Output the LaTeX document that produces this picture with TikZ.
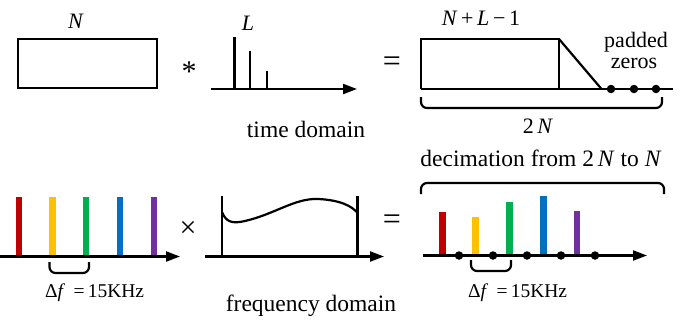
\documentclass[tikz,border=0pt]{standalone}
\usepackage{fontspec}
\setmainfont{Liberation Serif}
\newfontfamily\tnr{Liberation Serif}
\usetikzlibrary{arrows.meta}
\definecolor{cred}{HTML}{C00000}
\definecolor{cyel}{HTML}{FFC000}
\definecolor{cgrn}{HTML}{00B050}
\definecolor{cblu}{HTML}{0070C0}
\definecolor{cpur}{HTML}{7030A0}
\tikzset{
  big/.style={font=\tnr\fontsize{23.5}{24}\selectfont, inner sep=0pt},
  lbl/.style={font=\tnr\fontsize{22}{21}\selectfont, inner sep=0pt, align=center},
  small/.style={font=\tnr\fontsize{19.5}{20}\selectfont, inner sep=0pt},
  ln/.style={line width=2.2pt},
  axis/.style={line width=2.2pt, -{Triangle[length=14pt,width=10pt]}},
  bar/.style={line width=6.5pt},
  brc/.style={line width=2.2pt, rounded corners=6pt},
  dot/.style={circle, fill=black, inner sep=0pt, minimum size=8.5pt},
}
\begin{document}
\begin{tikzpicture}[x=1pt,y=-1pt]
\useasboundingbox (0,0) rectangle (692,330);
% ---------- top row ----------
\node[lbl, anchor=base] (nlab) at (76,28) {\textit{N}};
\draw[ln] (18,39) rectangle (157,88);
\node[font=\tnr\fontsize{30}{30}\selectfont, inner sep=0pt] (star) at (189,72) {*};
% impulse response
\coordinate (ax1s) at (211,89);
\coordinate (ax1e) at (357,89);
\draw[axis] (ax1s) -- (ax1e);
\draw[ln] (234.5,89) -- (234.5,36.5);
\draw[ln] (250,89) -- (250,50.5);
\draw[ln] (267,89) -- (267,71);
\node[lbl, anchor=base] (llab) at (248,30) {\textit{L}};
\node[big, anchor=base] (td) at (306,137) {time domain};
\node[font=\tnr\fontsize{32}{32}\selectfont, inner sep=0pt] (eq1) at (392,64) {=};
% result
\draw[ln] (421,89) -- (421,39) -- (559,39) -- (559,89);
\draw[ln] (559,39) -- (601.5,89);
\draw[ln] (421,89) -- (673,89);
\node[dot] (d1) at (611,89) {};
\node[dot] (d2) at (634,89) {};
\node[dot] (d3) at (656,89) {};
\node[lbl, anchor=base] (nl1) at (481,25) {\textit{N}\,+\,\textit{L}\,−\,1};
\node[lbl, anchor=base] (pad) at (636,47) {padded};
\node[lbl, anchor=base] (zer) at (634,68) {zeros};
\draw[brc] (421,97) -- (421,108) -- (662,108) -- (662,97);
\node[lbl, anchor=base] (twon) at (538,133) {2\,\textit{N}};
% ---------- bottom row ----------
\coordinate (ax2s) at (0,256.5);
\coordinate (ax2e) at (180,256.5);
\draw[bar, cred] (19,256.5) -- (19,197);
\draw[bar, cyel] (52.5,256.5) -- (52.5,197);
\draw[bar, cgrn] (86,256.5) -- (86,197);
\draw[bar, cblu] (120,256.5) -- (120,197);
\draw[bar, cpur] (154,256.5) -- (154,197);
\draw[axis] (ax2s) -- (ax2e);
\draw[brc] (49.5,262) -- (49.5,273) -- (89,273) -- (89,262);
\node[small, anchor=base west] (df1) at (45,297) {Δ\textit{f}\, =\,15KHz};
\node[font=\tnr\fontsize{30}{30}\selectfont, inner sep=0pt] (times) at (188,229) {×};
% frequency response
\coordinate (ax3s) at (205,256.5);
\coordinate (ax3e) at (384,256.5);
\draw[axis] (ax3s) -- (ax3e);
\draw[ln] (222,256.5) -- (222,196);
\draw[ln] (357.5,256.5) -- (357.5,196);
\draw[ln] (222,212) .. controls (226,222) and (232,224) .. (245,221)
   .. controls (275,214) and (295,198) .. (318,199)
   .. controls (340,200) and (352,206) .. (357.5,213);
\node[big, anchor=base] (fd) at (311,311.5) {frequency domain};
\node[font=\tnr\fontsize{32}{32}\selectfont, inner sep=0pt] (eq2) at (392,222) {=};
% decimated result
\draw[bar, cred] (442.5,255.5) -- (442.5,211.5);
\draw[bar, cyel] (475.5,255.5) -- (475.5,216.5);
\draw[bar, cgrn] (509.5,255.5) -- (509.5,201.5);
\draw[bar, cblu] (543.5,255.5) -- (543.5,196);
\draw[bar, cpur] (577,255.5) -- (577,211);
\coordinate (ax4s) at (423,255.5);
\coordinate (ax4e) at (647,255.5);
\draw[axis] (ax4s) -- (ax4e);
\node[dot] (e1) at (459,255.5) {};
\node[dot] (e2) at (493,255.5) {};
\node[dot] (e3) at (527,255.5) {};
\node[dot] (e4) at (561,255.5) {};
\node[dot] (e5) at (595,255.5) {};
\draw[brc] (471,260) -- (471,271) -- (511,271) -- (511,260);
\node[small, anchor=base west] (df2) at (468,297) {Δ\textit{f}\, =\,15KHz};
\draw[brc] (421,194) -- (421,183) -- (664,183) -- (664,194);
\node[big, anchor=base] (dec) at (541,166.5) {decimation from 2\,\textit{N} to \textit{N}};
\end{tikzpicture}
\end{document}
